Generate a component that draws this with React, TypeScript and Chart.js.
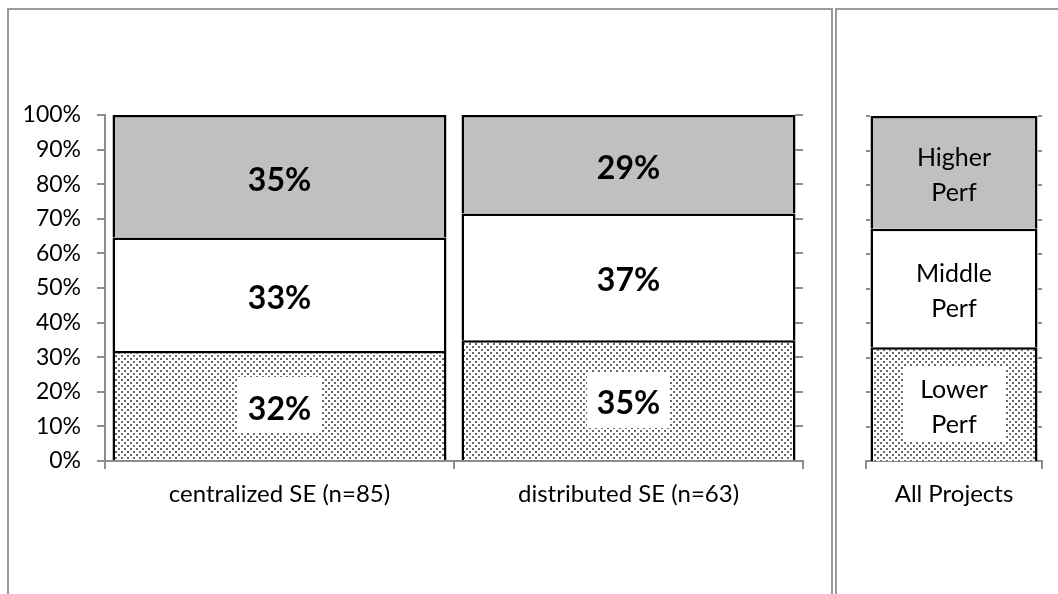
import React, { useEffect, useRef } from "react";
import { Chart, registerables } from "chart.js";

Chart.register(...registerables);

// ---- data ----
const GROUPS = ["centralized SE (n=85)", "distributed SE (n=63)"];
const LOWER = [31.8, 34.9];
const MIDDLE = [32.8, 36.6];
const HIGHER = [35.4, 28.5];

const ALL_LABEL = ["All Projects"];
const ALL_LOWER = [33.0];
const ALL_MIDDLE = [34.3];
const ALL_HIGHER = [32.7];
const SERIES_NAMES = [["Lower", "Perf"], ["Middle", "Perf"], ["Higher", "Perf"]];

const Y_TICKS_STEP = 10;

const FONT = "Lato, 'Open Sans', sans-serif";
const AXIS = "#8c8c8c";
const GRAY = "#c0c0c0";

function makePattern(): CanvasPattern | string {
  const tile = document.createElement("canvas");
  tile.width = 6;
  tile.height = 6;
  const c = tile.getContext("2d");
  if (!c) return "#eee";
  c.fillStyle = "#ffffff";
  c.fillRect(0, 0, 6, 6);
  c.fillStyle = "#6a6a6a";
  c.fillRect(1, 1, 2, 2);
  c.fillRect(4, 4, 2, 2);
  const p = c.createPattern(tile, "repeat");
  return p || "#eee";
}

function innerTicksPlugin(len: number, left: boolean, right: boolean) {
  return {
    id: "innerTicks",
    afterDatasetsDraw(chart: any) {
      const { ctx, chartArea } = chart;
      const y = chart.scales.y;
      ctx.save();
      ctx.strokeStyle = AXIS;
      ctx.lineWidth = 2;
      for (let v = 0; v <= 100; v += Y_TICKS_STEP) {
        const py = Math.round(y.getPixelForValue(v));
        ctx.beginPath();
        if (left) {
          ctx.moveTo(chartArea.left, py);
          ctx.lineTo(chartArea.left + len, py);
        }
        if (right) {
          ctx.moveTo(chartArea.right - len, py);
          ctx.lineTo(chartArea.right, py);
        }
        ctx.stroke();
      }
      ctx.restore();
    },
  };
}

function labelPlugin(
  getLines: (di: number, v: number) => string[],
  font: string,
  lineH: number,
  boxDataset: number,
  boxPadX: number,
  boxH: number,
  dy: number
) {
  return {
    id: "segLabels",
    afterDatasetsDraw(chart: any) {
      const { ctx } = chart;
      ctx.save();
      ctx.font = font;
      ctx.textAlign = "center";
      ctx.textBaseline = "middle";
      chart.data.datasets.forEach((ds: any, di: number) => {
        const meta = chart.getDatasetMeta(di);
        meta.data.forEach((el: any, i: number) => {
          const v = ds.data[i];
          const lines = getLines(di, v);
          const cx = el.x;
          const cy = (el.y + el.base) / 2;
          if (di === boxDataset) {
            const w = Math.max(...lines.map((l) => ctx.measureText(l).width)) + boxPadX * 2;
            ctx.fillStyle = "#ffffff";
            ctx.fillRect(Math.round(cx - w / 2), Math.round(cy - boxH / 2), Math.round(w), boxH);
          }
          ctx.fillStyle = "#000000";
          const startY = cy + dy - ((lines.length - 1) * lineH) / 2;
          lines.forEach((l, k) => ctx.fillText(l, cx, startY + k * lineH));
        });
      });
      ctx.restore();
    },
  };
}

export default function App() {
  const leftRef = useRef<HTMLCanvasElement>(null);
  const rightRef = useRef<HTMLCanvasElement>(null);

  useEffect(() => {
    const pattern = makePattern();
    const yFont = { family: FONT, size: 23 };
    const xFont = { family: FONT, size: 24 };

    const left = new Chart(leftRef.current as HTMLCanvasElement, {
      type: "bar",
      data: {
        labels: GROUPS,
        datasets: [
          { label: "Lower Perf", data: LOWER, backgroundColor: pattern as any, borderColor: "#000", borderWidth: 2.5, barPercentage: 0.957, categoryPercentage: 1 },
          { label: "Middle Perf", data: MIDDLE, backgroundColor: "#ffffff", borderColor: "#000", borderWidth: 2.5, barPercentage: 0.957, categoryPercentage: 1 },
          { label: "Higher Perf", data: HIGHER, backgroundColor: GRAY, borderColor: "#000", borderWidth: 2.5, barPercentage: 0.957, categoryPercentage: 1 },
        ],
      },
      options: {
        animation: false,
        responsive: false,
        layout: { padding: { left: 0, top: 115, right: 31, bottom: 0 } },
        plugins: { legend: { display: false }, tooltip: { enabled: false } },
        scales: {
          x: {
            stacked: true,
            grid: { display: true, drawOnChartArea: false, drawTicks: true, tickLength: 8, color: AXIS, lineWidth: 2, offset: true },
            border: { display: true, color: AXIS, width: 2 },
            ticks: { font: xFont, color: "#000", padding: 11 },
            afterFit(s: any) { s.height = 133; },
          },
          y: {
            stacked: true,
            min: 0,
            max: 100,
            ticks: { stepSize: Y_TICKS_STEP, callback: (v: any) => v + "%", font: yFont, color: "#000", padding: 16 },
            grid: { drawOnChartArea: false, drawTicks: true, tickLength: 8, color: AXIS, lineWidth: 2 },
            border: { display: true, color: AXIS, width: 2 },
            afterFit(s: any) { s.width = 105; },
          },
        },
      } as any,
      plugins: [
        innerTicksPlugin(8, false, true),
        labelPlugin((di, v) => [Math.round(v) + "%"], `bold 32px ${FONT}`, 32, 0, 10, 56, 4),
      ],
    });

    const right = new Chart(rightRef.current as HTMLCanvasElement, {
      type: "bar",
      data: {
        labels: ALL_LABEL,
        datasets: [
          { label: "Lower Perf", data: ALL_LOWER, backgroundColor: pattern as any, borderColor: "#000", borderWidth: 2.5, barPercentage: 0.949, categoryPercentage: 1 },
          { label: "Middle Perf", data: ALL_MIDDLE, backgroundColor: "#ffffff", borderColor: "#000", borderWidth: 2.5, barPercentage: 0.949, categoryPercentage: 1 },
          { label: "Higher Perf", data: ALL_HIGHER, backgroundColor: GRAY, borderColor: "#000", borderWidth: 2.5, barPercentage: 0.949, categoryPercentage: 1 },
        ],
      },
      options: {
        animation: false,
        responsive: false,
        layout: { padding: { left: 32, top: 116, right: 16, bottom: 0 } },
        plugins: { legend: { display: false }, tooltip: { enabled: false } },
        scales: {
          x: {
            stacked: true,
            grid: { display: true, drawOnChartArea: false, drawTicks: true, tickLength: 8, color: AXIS, lineWidth: 2, offset: true },
            border: { display: true, color: AXIS, width: 2 },
            ticks: { font: xFont, color: "#000", padding: 11 },
            afterFit(s: any) { s.height = 133; },
          },
          y: { stacked: true, min: 0, max: 100, display: false },
        },
      } as any,
      plugins: [
        innerTicksPlugin(4, true, true),
        labelPlugin((di) => SERIES_NAMES[di], `25px ${FONT}`, 35, 0, 17, 75, 3),
      ],
    });

    return () => {
      left.destroy();
      right.destroy();
    };
  }, []);

  return (
    <div style={{ position: "fixed", left: 0, top: 0, width: 1058, height: 594, overflow: "hidden", background: "#fff" }}>
      <div style={{ position: "absolute", left: 7, top: 8, width: 826, height: 700, border: "2px solid #9a9a9a", boxSizing: "border-box" }} />
      <div style={{ position: "absolute", left: 835, top: 8, width: 300, height: 700, border: "2px solid #9a9a9a", boxSizing: "border-box" }} />
      <canvas ref={leftRef} width={834} height={594} style={{ position: "absolute", left: 0, top: 0, width: 834, height: 594 }} />
      <canvas ref={rightRef} width={224} height={594} style={{ position: "absolute", left: 834, top: 0, width: 224, height: 594 }} />
    </div>
  );
}
